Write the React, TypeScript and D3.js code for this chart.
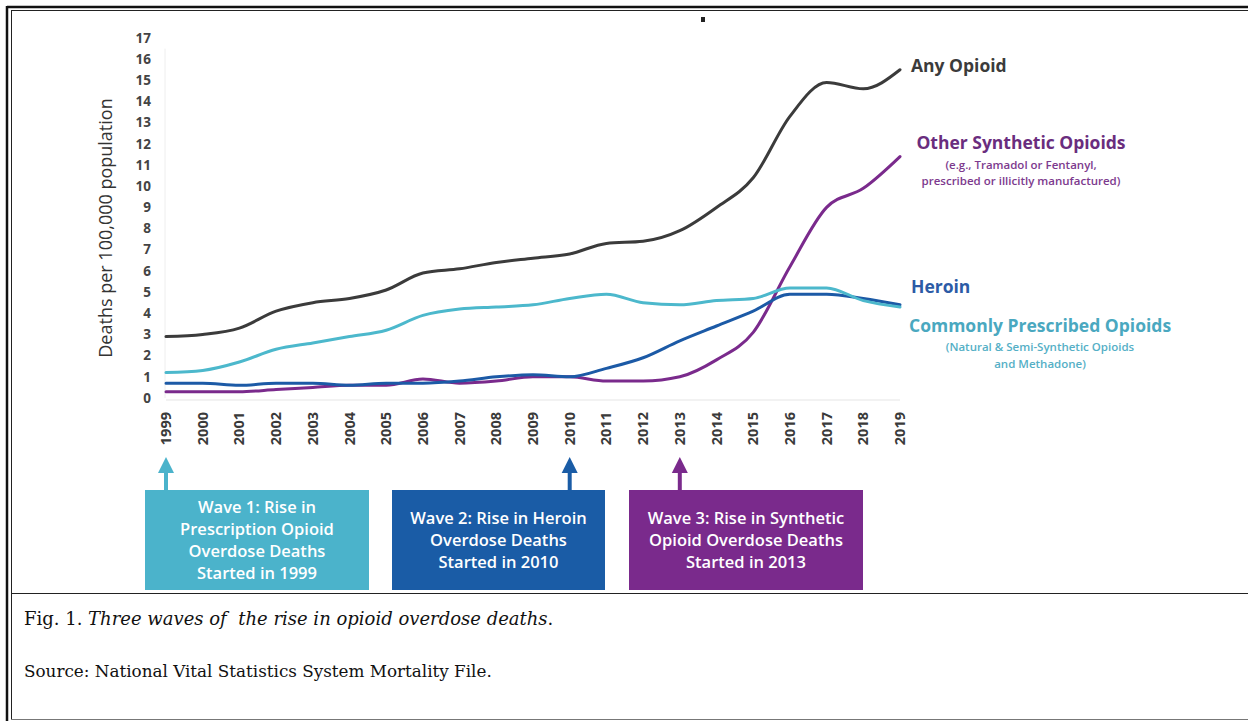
import React from "react";
import * as d3 from "d3";

const years = [1999,2000,2001,2002,2003,2004,2005,2006,2007,2008,2009,2010,2011,2012,2013,2014,2015,2016,2017,2018,2019];
const anyOpioid = [2.9,3.0,3.3,4.1,4.5,4.7,5.1,5.9,6.1,6.4,6.6,6.8,7.3,7.4,7.9,9.0,10.4,13.3,14.9,14.6,15.5];
const otherSynthetic = [0.3,0.3,0.3,0.4,0.5,0.6,0.6,0.9,0.7,0.8,1.0,1.0,0.8,0.8,1.0,1.8,3.1,6.2,9.0,9.9,11.4];
const heroin = [0.7,0.7,0.6,0.7,0.7,0.6,0.7,0.7,0.8,1.0,1.1,1.0,1.4,1.9,2.7,3.4,4.1,4.9,4.9,4.7,4.4];
const prescribed = [1.2,1.3,1.7,2.3,2.6,2.9,3.2,3.9,4.2,4.3,4.4,4.7,4.9,4.5,4.4,4.6,4.7,5.2,5.2,4.6,4.3];
const yTicks = d3.range(0, 18);

const seriesNames = ["Other Synthetic Opioids", "Heroin", "Commonly Prescribed Opioids", "Any Opioid"];
const seriesColors = ["#7a2a8c", "#1c5aa6", "#4cb8cc", "#3b3b3b"];
const seriesValues = [otherSynthetic, heroin, prescribed, anyOpioid];

const waveLines = [
  ["Wave 1: Rise in", "Prescription Opioid", "Overdose Deaths", "Started in 1999"],
  ["Wave 2: Rise in Heroin", "Overdose Deaths", "Started in 2010"],
  ["Wave 3: Rise in Synthetic", "Opioid Overdose Deaths", "Started in 2013"],
];
const waveYears = [1999, 2010, 2013];
const waveColors = ["#4bb3cb", "#1a5ca6", "#7a2a8c"];

const W = 1248, H = 721;
const font = "'Open Sans', 'DejaVu Sans', sans-serif";
const serif = "'DejaVu Serif', 'Liberation Serif', serif";

export default function App() {
  const x = d3.scaleLinear().domain([1999, 2019]).range([166, 900]);
  const y = d3.scaleLinear().domain([0, 17]).range([398, 38]);
  const line = d3.line<number>()
    .x((_, i) => x(years[i]))
    .y((d) => y(d))
    .curve(d3.curveMonotoneX);

  const boxes = [
    { x0: 145, x1: 369 },
    { x0: 392, x1: 605 },
    { x0: 629, x1: 863 },
  ];
  const boxTop = 490, boxBottom = 590;

  return (
    <div style={{ position: "absolute", left: 0, top: 0, width: W, height: H, background: "#fff" }}>
      <svg width={W} height={H} style={{ display: "block" }}>
        <rect x={0} y={0} width={W} height={H} fill="#fff" />
        {/* frame */}
        <line x1={7} y1={7} x2={W} y2={7} stroke="#111" strokeWidth={2.5} />
        <line x1={7} y1={6} x2={7} y2={H} stroke="#111" strokeWidth={2.5} />
        <line x1={11} y1={10.5} x2={W} y2={10.5} stroke="#222" strokeWidth={1} />
        <line x1={11.5} y1={10} x2={11.5} y2={719} stroke="#222" strokeWidth={1} />
        <line x1={11} y1={593.5} x2={W} y2={593.5} stroke="#222" strokeWidth={1} />
        <line x1={11} y1={719.5} x2={W} y2={719.5} stroke="#777" strokeWidth={1} />

        <rect x={701} y={17} width={4} height={5} fill="#222" />

        {/* faint axes */}
        <line x1={x(1999) - 1} y1={y(16.5)} x2={x(1999) - 1} y2={y(0)} stroke="#eeeeee" strokeWidth={1} />
        <line x1={x(1999)} y1={y(0) + 2} x2={x(2019)} y2={y(0) + 2} stroke="#eeeeee" strokeWidth={1.5} />

        {/* y ticks */}
        {yTicks.map((t) => (
          <text key={t} x={151} y={y(t)} dy="0.35em" textAnchor="end" fontFamily={font} fontWeight={700} fontSize={13.5} fill="#444">
            {t}
          </text>
        ))}
        <text transform={`translate(106,228) rotate(-90)`} textAnchor="middle" dy="0.35em" fontFamily={font} fontSize={18} fontWeight={500} fill="#333">
          Deaths per 100,000 population
        </text>

        {/* x ticks */}
        {years.map((yr) => (
          <text key={yr} transform={`translate(${x(yr)},${412}) rotate(-90)`} textAnchor="end" dy="0.35em" fontFamily={font} fontWeight={700} fontSize={14.5} fill="#3a3a3a">
            {yr}
          </text>
        ))}

        {/* lines */}
        {seriesValues.map((vals, i) => (
          <path key={seriesNames[i]} d={line(vals) || ""} fill="none" stroke={seriesColors[i]} strokeWidth={3} strokeLinejoin="round" strokeLinecap="round" />
        ))}

        {/* series labels */}
        <text x={911} y={66} dy="0.35em" fontFamily={font} fontWeight={700} fontSize={17.5} fill="#3b3b3b">Any Opioid</text>
        <text x={1021} y={143} dy="0.35em" textAnchor="middle" fontFamily={font} fontWeight={700} fontSize={17.5} fill="#6a2d7e">Other Synthetic Opioids</text>
        <text x={1021} y={165} dy="0.35em" textAnchor="middle" fontFamily={font} fontWeight={600} fontSize={11.5} fill="#7d3a8e">(e.g., Tramadol or Fentanyl,</text>
        <text x={1021} y={181} dy="0.35em" textAnchor="middle" fontFamily={font} fontWeight={600} fontSize={11.5} fill="#7d3a8e">prescribed or illicitly manufactured)</text>
        <text x={911} y={287} dy="0.35em" fontFamily={font} fontWeight={700} fontSize={17.5} fill="#2c5ba6">Heroin</text>
        <text x={909} y={326} dy="0.35em" fontFamily={font} fontWeight={700} fontSize={17.5} fill="#4aa8c0">Commonly Prescribed Opioids</text>
        <text x={1040} y={347} dy="0.35em" textAnchor="middle" fontFamily={font} fontWeight={600} fontSize={11.5} fill="#55afc6">(Natural &amp; Semi-Synthetic Opioids</text>
        <text x={1040} y={364} dy="0.35em" textAnchor="middle" fontFamily={font} fontWeight={600} fontSize={11.5} fill="#55afc6">and Methadone)</text>

        {/* wave boxes and arrows */}
        {waveLines.map((lines, i) => {
          const b = boxes[i];
          const ax = x(waveYears[i]);
          const cx = (b.x0 + b.x1) / 2;
          const lh = 22;
          const cy = (boxTop + boxBottom) / 2;
          const start = cy - ((lines.length - 1) * lh) / 2;
          return (
            <g key={i}>
              <rect x={b.x0} y={boxTop} width={b.x1 - b.x0} height={boxBottom - boxTop} fill={waveColors[i]} />
              <line x1={ax} y1={boxTop} x2={ax} y2={470} stroke={waveColors[i]} strokeWidth={4} />
              <path d={`M${ax - 8},${473} L${ax},${457} L${ax + 8},${473} Z`} fill={waveColors[i]} />
              {lines.map((t, j) => (
                <text key={j} x={cx} y={start + j * lh} dy="0.35em" textAnchor="middle" fontFamily={font} fontWeight={600} fontSize={16.5} fill="#fff">
                  {t}
                </text>
              ))}
            </g>
          );
        })}

        {/* caption */}
        <text x={24} y={625} fontFamily={serif} fontSize={18} fill="#111" style={{ whiteSpace: "pre" }}>
          <tspan>Fig. 1. </tspan>
          <tspan fontStyle="italic">Three waves of  the rise in opioid overdose deaths</tspan>
          <tspan>.</tspan>
        </text>
        <text x={24} y={677} fontFamily={serif} fontSize={16.8} fill="#111">
          Source: National Vital Statistics System Mortality File.
        </text>
      </svg>
    </div>
  );
}
